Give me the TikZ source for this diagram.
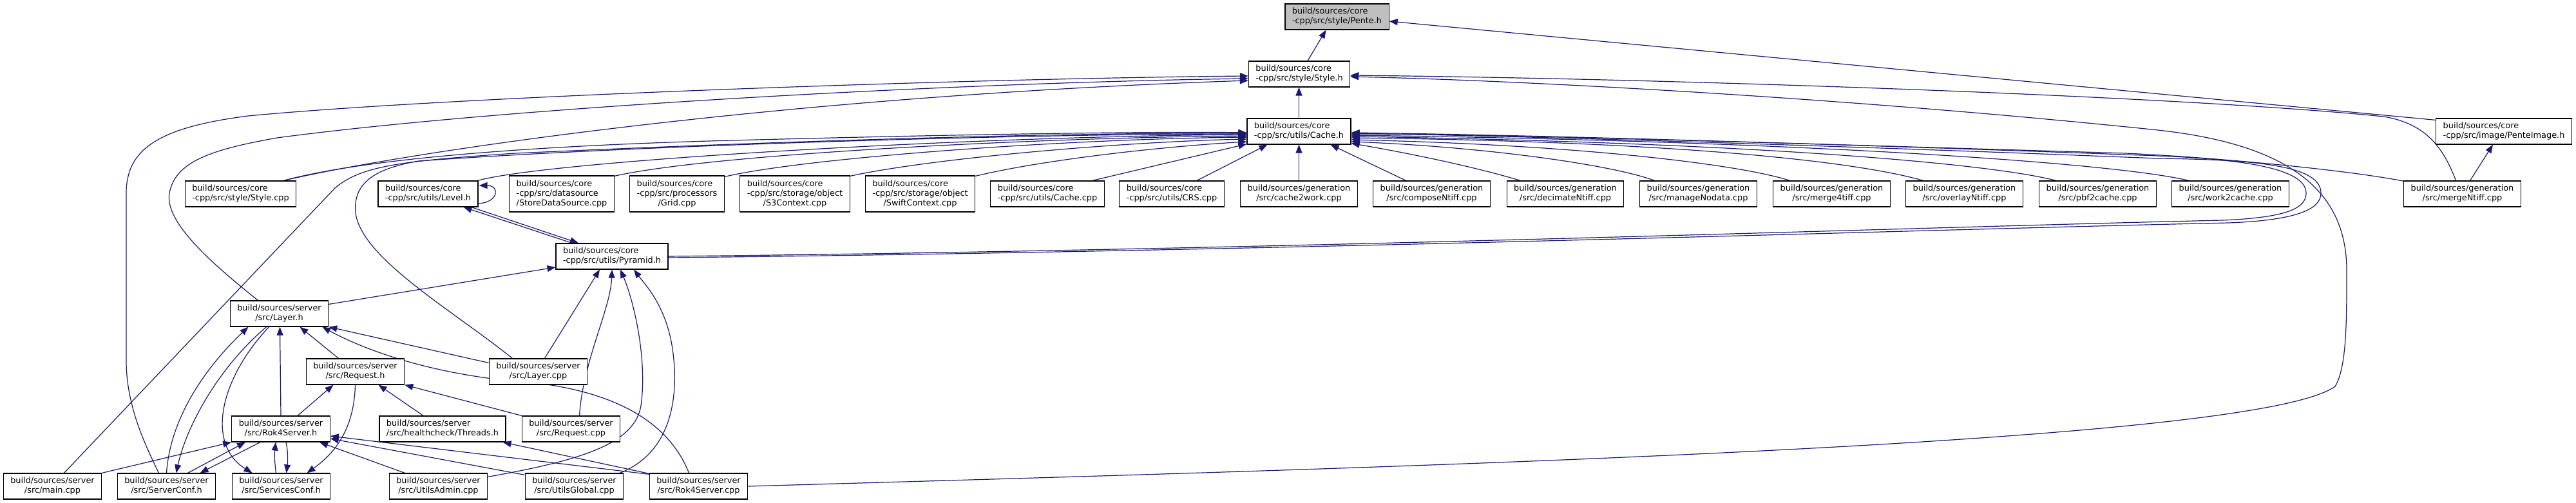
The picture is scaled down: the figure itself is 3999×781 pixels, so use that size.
\documentclass[tikz,border=0pt]{standalone}
\usepackage{fontspec}
\setmainfont{DejaVu Sans}
\usetikzlibrary{arrows.meta,calc}
\definecolor{edgec}{HTML}{191970}
\definecolor{rootc}{HTML}{BFBFBF}
\pgfdeclarelayer{background}
\pgfsetlayers{background,main}
\newcommand\twol[2]{\begin{tabular}{@{}l@{}}#1\\\multicolumn{1}{@{}c@{}}{#2}\end{tabular}}
\newcommand\threel[3]{\begin{tabular}{@{}l@{}}#1\\#2\\\multicolumn{1}{@{}c@{}}{#3}\end{tabular}}
\begin{document}
\begin{tikzpicture}[x=1pt,y=-1pt,
  nd/.style={draw=black,line width=1.2pt,fill=white,inner xsep=11pt,inner ysep=0pt,minimum height=40pt,font=\fontsize{12.86}{15}\selectfont},
  nd3/.style={nd,minimum height=56pt},
  e/.style={draw=edgec,line width=1.2pt,-{Triangle[length=13pt,width=10pt]}}]
\useasboundingbox (0,0) rectangle (3999,781);
% nodes
\node[nd,fill=rootc] (pente) at (2075.5,26) {\twol{build/sources/core}{-cpp/src/style/Pente.h}};
\node[nd] (styleh) at (2017,115) {\twol{build/sources/core}{-cpp/src/style/Style.h}};
\node[nd] (cacheh) at (2016.5,204) {\twol{build/sources/core}{-cpp/src/utils/Cache.h}};
\node[nd] (penteimg) at (3887,204) {\twol{build/sources/core}{-cpp/src/image/PenteImage.h}};
\node[nd] (stylecpp) at (373.5,301) {\twol{build/sources/core}{-cpp/src/style/Style.cpp}};
\node[nd] (level) at (664.5,301) {\twol{build/sources/core}{-cpp/src/utils/Level.h}};
\node[nd3] (store) at (872,301) {\threel{build/sources/core}{-cpp/src/datasource}{/StoreDataSource.cpp}};
\node[nd3] (grid) at (1051,301) {\threel{build/sources/core}{-cpp/src/processors}{/Grid.cpp}};
\node[nd3] (sthree) at (1234,301) {\threel{build/sources/core}{-cpp/src/storage/object}{/S3Context.cpp}};
\node[nd3] (swift) at (1428.5,301) {\threel{build/sources/core}{-cpp/src/storage/object}{/SwiftContext.cpp}};
\node[nd] (cachecpp) at (1626,301) {\twol{build/sources/core}{-cpp/src/utils/Cache.cpp}};
\node[nd] (crs) at (1819,301) {\twol{build/sources/core}{-cpp/src/utils/CRS.cpp}};
\node[nd] (ctw) at (2016.5,301) {\twol{build/sources/generation}{/src/cache2work.cpp}};
\node[nd] (compose) at (2222.5,301) {\twol{build/sources/generation}{/src/composeNtiff.cpp}};
\node[nd] (decimate) at (2430,301) {\twol{build/sources/generation}{/src/decimateNtiff.cpp}};
\node[nd] (manage) at (2636.5,301) {\twol{build/sources/generation}{/src/manageNodata.cpp}};
\node[nd] (mergefour) at (2843.5,301) {\twol{build/sources/generation}{/src/merge4tiff.cpp}};
\node[nd] (overlay) at (3049.5,301) {\twol{build/sources/generation}{/src/overlayNtiff.cpp}};
\node[nd] (pbf) at (3256.5,301) {\twol{build/sources/generation}{/src/pbf2cache.cpp}};
\node[nd] (wtc) at (3462.5,301) {\twol{build/sources/generation}{/src/work2cache.cpp}};
\node[nd] (mergen) at (3822.5,301) {\twol{build/sources/generation}{/src/mergeNtiff.cpp}};
\node[nd] (pyramid) at (950,398) {\twol{build/sources/core}{-cpp/src/utils/Pyramid.h}};
\node[nd] (layerh) at (433.5,487) {\twol{build/sources/server}{/src/Layer.h}};
\node[nd] (requesth) at (551.5,577) {\twol{build/sources/server}{/src/Request.h}};
\node[nd] (layercpp) at (835.5,577) {\twol{build/sources/server}{/src/Layer.cpp}};
\node[nd] (rokh) at (436,666) {\twol{build/sources/server}{/src/Rok4Server.h}};
\node[nd] (threads) at (687,666) {\twol{build/sources/server}{/src/healthcheck/Threads.h}};
\node[nd] (requestcpp) at (886.5,666) {\twol{build/sources/server}{/src/Request.cpp}};
\node[nd] (maincpp) at (81.5,755) {\twol{build/sources/server}{/src/main.cpp}};
\node[nd] (serverconf) at (258.5,755) {\twol{build/sources/server}{/src/ServerConf.h}};
\node[nd] (servicesconf) at (436.5,755) {\twol{build/sources/server}{/src/ServicesConf.h}};
\node[nd] (utilsadmin) at (680.5,755) {\twol{build/sources/server}{/src/UtilsAdmin.cpp}};
\node[nd] (utilsglobal) at (891.5,755) {\twol{build/sources/server}{/src/UtilsGlobal.cpp}};
\node[nd] (rokcpp) at (1084.5,755) {\twol{build/sources/server}{/src/Rok4Server.cpp}};
\begin{pgfonlayer}{background}
% to Pente.h
\draw[e] ($(styleh.north)+(13,0)$) -- ($(pente.south)+(-17,0)$);
\draw[e] ($(penteimg.north west)+(0,3)$) -- ($(pente.east)+(0,7)$);
% to Style.h
\draw[e] (cacheh.north) -- (cacheh.north |- styleh.south);
\draw[e] ($(serverconf.north)+(-12,0)$) .. controls (225,690) and (196,630) .. (196,560) -- (196,300) .. controls (196,232) and (245,198) .. (385,180) .. controls (700,150) and (1500,122) .. ($(styleh.west)+(0,3)$);
\draw[e] ($(layerh.north)+(-33,0)$) .. controls (330,410) and (255,345) .. (263,300) .. controls (272,250) and (330,232) .. (430,214) .. controls (800,165) and (1500,128) .. ($(styleh.west)+(0,7)$);
\draw[e] ($(stylecpp.north east)+(-20,0)$) .. controls (620,238) and (1200,150) .. ($(styleh.west)+(0,10)$);
\draw[e] ($(mergen.north)+(-10,0)$) .. controls (3795,235) and (3770,192) .. (3700,181) .. controls (3400,150) and (2600,122) .. ($(styleh.east)+(0,2)$);
\draw[e] (rokcpp.east) .. controls (2200,725) and (3500,690) .. (3625,600) .. controls (3643,570) and (3643,500) .. (3643,420) .. controls (3643,300) and (3560,225) .. (3350,202) .. controls (2900,155) and (2400,126) .. ($(styleh.east)+(0,4)$);
% to Cache.h from the left
\draw[e] ($(stylecpp.north east)+(-20,0)$) .. controls (560,248) and (800,228) .. (1100,219) .. controls (1500,208) and (1800,204) .. ($(cacheh.west)+(0,2)$);
\draw[e] ($(maincpp.north)+(18,0)$) -- (520,292) .. controls (560,258) and (620,250) .. (800,238) .. controls (1300,215) and (1700,206) .. ($(cacheh.west)+(0,3)$);
\draw[e] ($(layercpp.north)+(-40,0)$) .. controls (700,480) and (560,400) .. (552,330) .. controls (548,285) and (580,262) .. (650,250) .. controls (1000,225) and (1600,208) .. ($(cacheh.west)+(0,4)$);
\draw[e] ($(level.north east)+(-1,0)$) .. controls (850,250) and (1500,212) .. ($(cacheh.west)+(0,5)$);
\draw[e] ($(store.north east)+(0,1)$) .. controls (1100,240) and (1600,214) .. ($(cacheh.west)+(0,7)$);
\draw[e] ($(grid.north east)+(0,2)$) .. controls (1250,245) and (1650,216) .. ($(cacheh.west)+(0,9)$);
\draw[e] ($(sthree.north east)+(0,1)$) .. controls (1450,245) and (1750,220) .. ($(cacheh.west)+(0,12)$);
\draw[e] ($(swift.north east)+(0,1)$) .. controls (1620,248) and (1800,228) .. ($(cacheh.west)+(0,16)$);
\draw[e] ($(cachecpp.north east)+(-19,0)$) -- ($(cacheh.south west)+(0,-1)$);
\draw[e] ($(crs.north)+(39,0)$) -- ($(cacheh.south)+(-49,0)$);
% to Cache.h from below / right
\draw[e] (ctw.north) -- (ctw.north |- cacheh.south);
\draw[e] ($(compose.north)+(-40,0)$) -- ($(cacheh.south)+(49,0)$);
\draw[e] ($(decimate.north)+(-70,0)$) .. controls (2300,262) and (2200,240) .. ($(cacheh.south east)+(0,-2)$);
\draw[e] ($(manage.north)+(-68,0)$) .. controls (2500,255) and (2300,228) .. ($(cacheh.east)+(0,16)$);
\draw[e] ($(mergefour.north)+(-65,0)$) .. controls (2700,255) and (2450,225) .. ($(cacheh.east)+(0,13)$);
\draw[e] ($(overlay.north)+(-64,0)$) .. controls (2880,250) and (2600,220) .. ($(cacheh.east)+(0,10)$);
\draw[e] ($(pbf.north)+(-65,0)$) .. controls (3100,256) and (2750,222) .. ($(cacheh.east)+(0,8)$);
\draw[e] ($(wtc.north)+(-65,0)$) .. controls (3300,256) and (2850,220) .. ($(cacheh.east)+(0,6)$);
\draw[e] ($(mergen.north west)+(1,1)$) .. controls (3650,265) and (3450,245) .. (3300,238) .. controls (2700,220) and (2300,208) .. ($(cacheh.east)+(0,4)$);
\draw[e] (pyramid.east) .. controls (2000,388) and (3000,352) .. (3450,342) .. controls (3545,338) and (3580,325) .. (3580,300) .. controls (3580,265) and (3500,248) .. (3350,242) .. controls (2900,225) and (2400,210) .. ($(cacheh.east)+(0,2)$);
\draw[e] ($(pyramid.east)+(0,2)$) .. controls (2000,390) and (3000,356) .. (3460,346) .. controls (3565,342) and (3603,325) .. (3603,300) .. controls (3603,260) and (3520,248) .. (3350,246) .. controls (2900,228) and (2400,212) .. ($(cacheh.east)+(0,3)$);
% Level.h / Pyramid.h
\draw[e] ($(pyramid.north)+(-62,0)$) -- ($(level.south)+(55,0)$);
\draw[e] ($(level.south)+(67,0)$) -- ($(pyramid.north)+(-52,0)$);
\draw[e] ($(level.east)+(0,15)$) .. controls (775,314) and (776,288) .. ($(level.east)+(1,-13)$);
\draw[e] ($(layerh.north east)+(0,6)$) -- ($(pyramid.west)+(0,17)$);
\draw[e] ($(layercpp.north)+(10,0)$) -- ($(pyramid.south)+(-19,0)$);
\draw[e] ($(requestcpp.north)+(13,0)$) .. controls (905,560) and (948,480) .. (pyramid.south);
\draw[e] ($(utilsadmin.north east)+(0,6)$) .. controls (900,715) and (985,690) .. (995,630) .. controls (1005,560) and (985,470) .. ($(pyramid.south)+(13,0)$);
\draw[e] ($(utilsglobal.north east)+(-6,0)$) .. controls (1050,700) and (1055,600) .. (1042,530) .. controls (1030,470) and (1000,440) .. ($(pyramid.south)+(34,0)$);
% Layer.h
\draw[e] (serverconf.north) .. controls (265,640) and (330,560) .. ($(layerh.south)+(-48,0)$);
\draw[e] ($(layerh.south)+(-20,0)$) .. controls (340,570) and (290,660) .. ($(serverconf.north)+(15,0)$);
\draw[e] ($(layerh.south)+(-16,0)$) .. controls (340,590) and (320,690) .. ($(servicesconf.north)+(-45,0)$);
\draw[e] (rokh.north) -- ($(layerh.south)+(1,0)$);
\draw[e] ($(requesth.north)+(-26,0)$) -- ($(layerh.south)+(32,0)$);
\draw[e] ($(rokcpp.north)+(-15,0)$) .. controls (1040,660) and (960,600) .. (780,590) .. controls (650,575) and (560,540) .. ($(layerh.south east)+(-10,0)$);
\draw[e] ($(layercpp.north west)+(0,7)$) -- (layerh.south east);
% Request.h
\draw[e] ($(rokh.north)+(26,0)$) -- ($(requesth.south)+(-34,0)$);
\draw[e] ($(threads.north)+(-30,0)$) -- ($(requesth.south)+(36,0)$);
\draw[e] (requestcpp.north west) -- (requesth.south east);
\draw[e] (requesth.south) .. controls (550,660) and (525,700) .. ($(servicesconf.north)+(40,0)$);
% Rok4Server.h
\draw[e] (maincpp.north east) -- (rokh.south west);
\draw[e] ($(serverconf.north)+(33,0)$) -- ($(rokh.south)+(-55,0)$);
\draw[e] ($(rokh.south)+(-32,0)$) -- ($(serverconf.north)+(52,0)$);
\draw[e] ($(servicesconf.north)+(-8,0)$) .. controls (426,715) and (426,705) .. ($(rokh.south)+(-8,0)$);
\draw[e] ($(rokh.south)+(8,0)$) .. controls (447,700) and (447,715) .. ($(servicesconf.north)+(8,0)$);
\draw[e] ($(utilsadmin.north)+(-52,0)$) -- ($(rokh.south)+(60,0)$);
\draw[e] ($(utilsglobal.north west)+(0,3)$) -- ($(rokh.east)+(0,15)$);
\draw[e] ($(rokcpp.north west)+(0,2)$) -- ($(rokh.east)+(0,11)$);
\draw[e] ($(rokcpp.north west)+(0,1)$) -- ($(threads.south east)+(-5,0)$);
% PenteImage.h
\draw[e] ($(mergen.north)+(12,0)$) -- ($(penteimg.south)+(-17,0)$);
\end{pgfonlayer}
\end{tikzpicture}
\end{document}
